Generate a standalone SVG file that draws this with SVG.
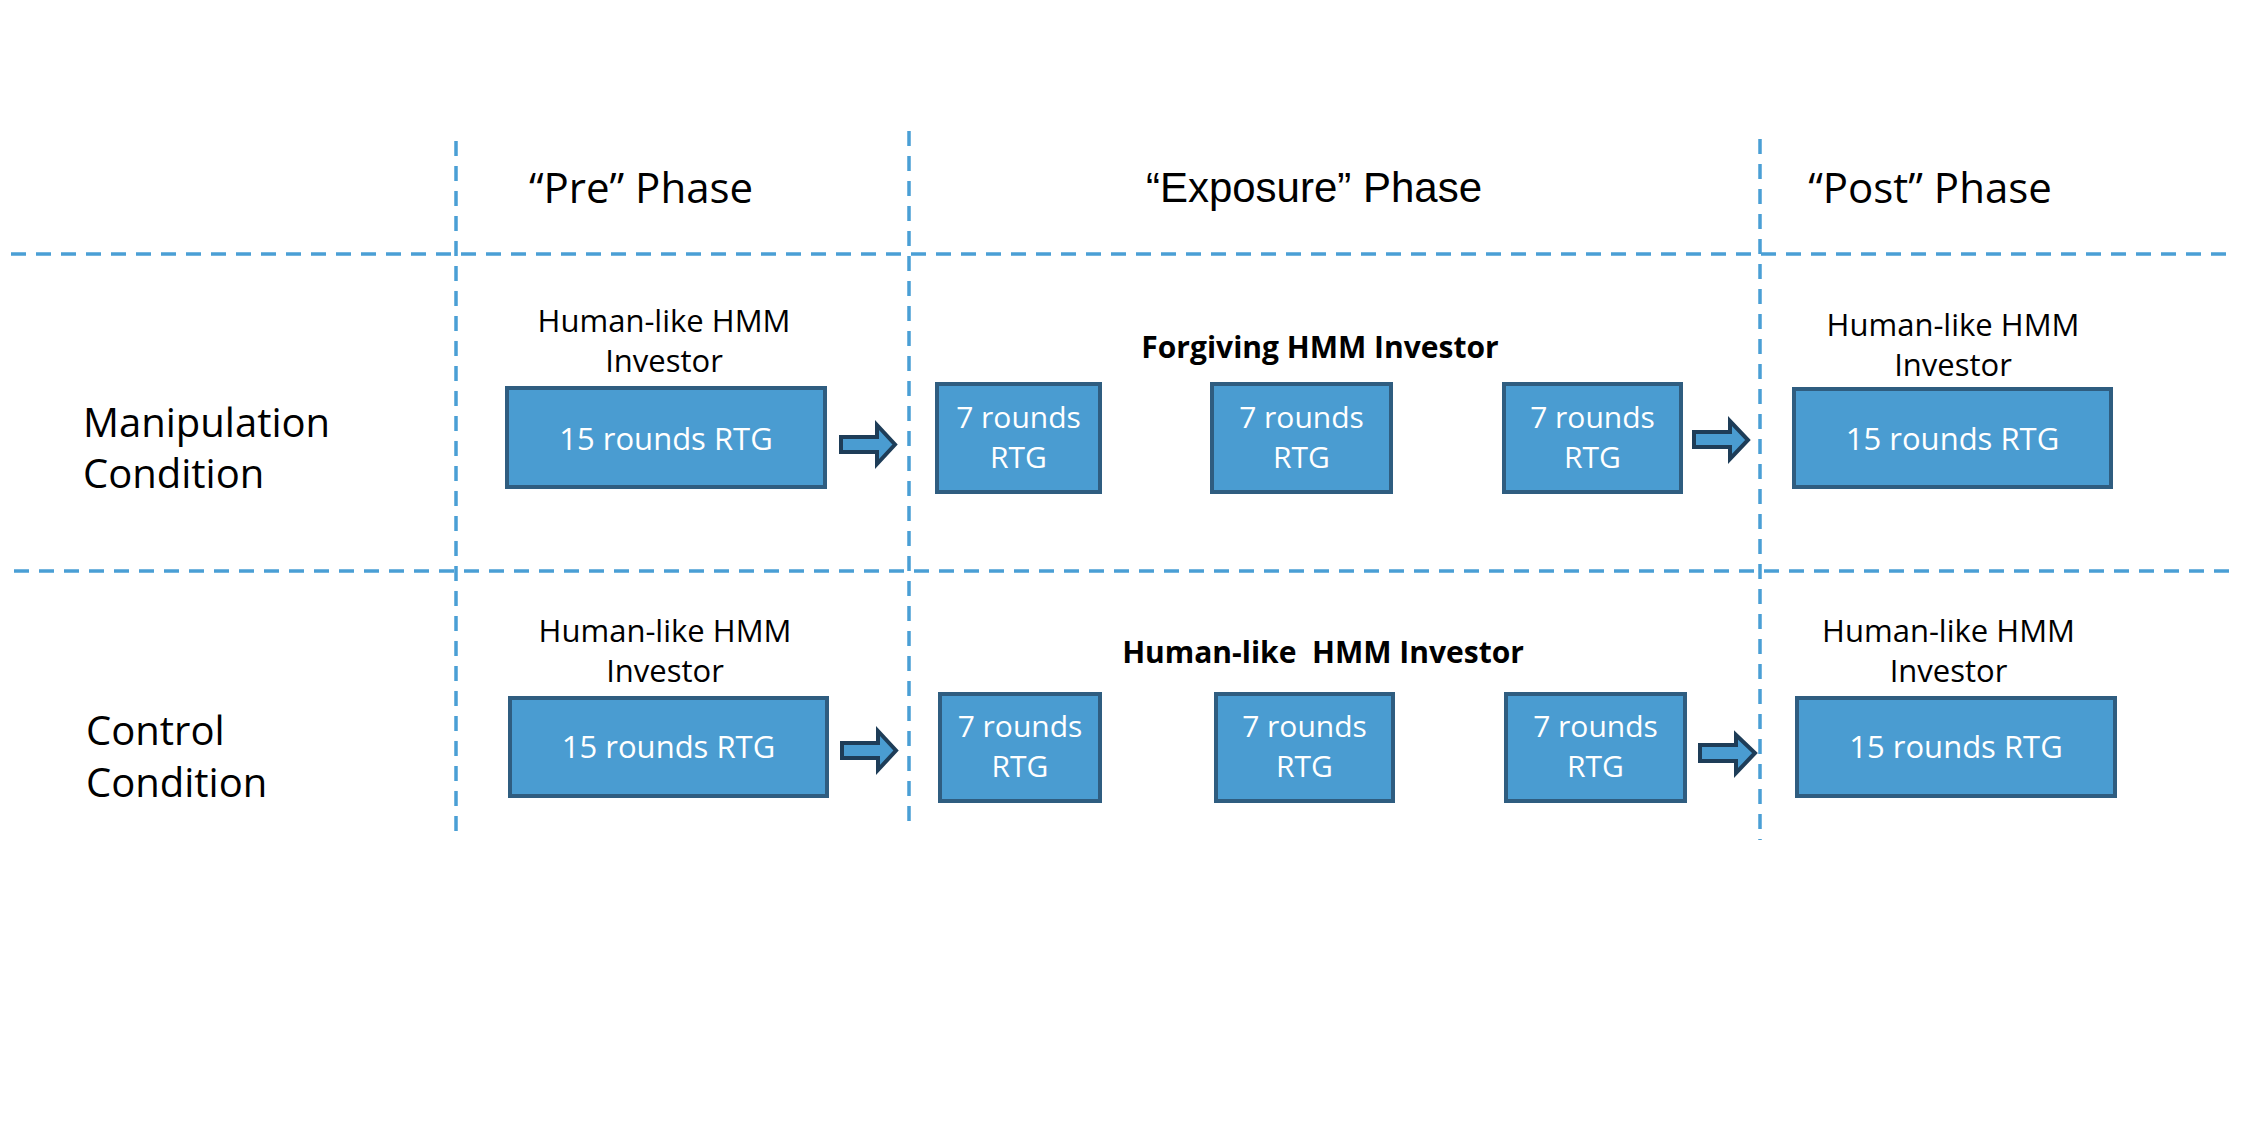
<svg xmlns="http://www.w3.org/2000/svg" width="2250" height="1130" viewBox="0 0 2250 1130">
<style>
.grid{stroke:#4A9FD5;stroke-width:3.5;stroke-dasharray:15 10;fill:none}
.box{fill:#4A9CD1;stroke:#2F5D80;stroke-width:4}
.arr{fill:#4A9CD1;stroke:#1E3D58;stroke-width:4;stroke-linejoin:miter}
.t{font-family:"Open Sans","Liberation Sans",sans-serif;fill:#000}
.hdr{font-size:42px;text-anchor:middle}
.hdr2{font-family:"Liberation Sans",Arial,sans-serif;font-size:42px;text-anchor:middle;fill:#000}
.lbl{font-size:31px;text-anchor:middle}
.cond{font-size:40px}
.bold{font-size:30px;font-weight:bold;text-anchor:middle}
.bt{font-family:"Open Sans","Liberation Sans",sans-serif;fill:#fff;text-anchor:middle}
.b15{font-size:31px}
.b7{font-size:30px}
</style>
<rect width="2250" height="1130" fill="#fff"/>
<g id="grid">
<line class="grid" x1="456" y1="141" x2="456" y2="840"/>
<line class="grid" x1="909" y1="131" x2="909" y2="829"/>
<line class="grid" x1="1760" y1="139" x2="1760" y2="840"/>
<line class="grid" x1="11" y1="254" x2="2232" y2="254"/>
<line class="grid" x1="14" y1="571" x2="2234" y2="571"/>
</g>
<g id="headers">
<text class="t hdr" x="641" y="203">“Pre” Phase</text>
<text class="hdr2" x="1314" y="202">“Exposure” Phase</text>
<text class="t hdr" x="1930" y="203">“Post” Phase</text>
</g>
<g id="manipulation-label">
<text class="t cond" x="83" y="437">Manipulation</text>
<text class="t cond" x="83" y="488">Condition</text>
</g>
<g id="control-label">
<text class="t cond" x="86" y="745">Control</text>
<text class="t cond" x="86" y="797">Condition</text>
</g>
<g id="m-pre">
<text class="t lbl" x="664" y="332">Human-like HMM</text>
<text class="t lbl" x="664" y="372">Investor</text>
<rect class="box" x="507" y="388" width="318" height="99"/>
<text class="bt b15" x="666" y="450">15 rounds RTG</text>
</g>
<g id="m-exposure-label">
<text class="t bold" x="1320" y="358">Forgiving HMM Investor</text>
</g>
<g id="m-exp1">
<rect class="box" x="937" y="384" width="163" height="108"/>
<text class="bt b7" x="1018.5" y="428">7 rounds</text>
<text class="bt b7" x="1018.5" y="468">RTG</text>
</g>
<g id="m-exp2">
<rect class="box" x="1212" y="384" width="179" height="108"/>
<text class="bt b7" x="1301.5" y="428">7 rounds</text>
<text class="bt b7" x="1301.5" y="468">RTG</text>
</g>
<g id="m-exp3">
<rect class="box" x="1504" y="384" width="177" height="108"/>
<text class="bt b7" x="1592.5" y="428">7 rounds</text>
<text class="bt b7" x="1592.5" y="468">RTG</text>
</g>
<g id="m-post">
<text class="t lbl" x="1953" y="336">Human-like HMM</text>
<text class="t lbl" x="1953" y="376">Investor</text>
<rect class="box" x="1794" y="389" width="317" height="98"/>
<text class="bt b15" x="1952.5" y="450">15 rounds RTG</text>
</g>
<g id="c-pre">
<text class="t lbl" x="665" y="642">Human-like HMM</text>
<text class="t lbl" x="665" y="682">Investor</text>
<rect class="box" x="510" y="698" width="317" height="98"/>
<text class="bt b15" x="668.5" y="758">15 rounds RTG</text>
</g>
<g id="c-exposure-label">
<text class="t bold" x="1323" y="663" xml:space="preserve">Human-like  HMM Investor</text>
</g>
<g id="c-exp1">
<rect class="box" x="940" y="694" width="160" height="107"/>
<text class="bt b7" x="1020" y="737">7 rounds</text>
<text class="bt b7" x="1020" y="777">RTG</text>
</g>
<g id="c-exp2">
<rect class="box" x="1216" y="694" width="177" height="107"/>
<text class="bt b7" x="1304.5" y="737">7 rounds</text>
<text class="bt b7" x="1304.5" y="777">RTG</text>
</g>
<g id="c-exp3">
<rect class="box" x="1506" y="694" width="179" height="107"/>
<text class="bt b7" x="1595.5" y="737">7 rounds</text>
<text class="bt b7" x="1595.5" y="777">RTG</text>
</g>
<g id="c-post">
<text class="t lbl" x="1948.5" y="642">Human-like HMM</text>
<text class="t lbl" x="1948.5" y="682">Investor</text>
<rect class="box" x="1797" y="698" width="318" height="98"/>
<text class="bt b15" x="1956" y="758">15 rounds RTG</text>
</g>
<g id="connectors">
<path class="arr" d="M841,437 H877 V425 L895,444.5 L877,464 V452 H841 Z"/>
<path class="arr" d="M1694,432 H1730 V421 L1748,440 L1730,459 V447 H1694 Z"/>
<path class="arr" d="M842,743 H878 V731 L896,750.5 L878,770 V758 H842 Z"/>
<path class="arr" d="M1700,745 H1736 V735 L1755,753 L1736,773 V761 H1700 Z"/>
</g>
</svg>
